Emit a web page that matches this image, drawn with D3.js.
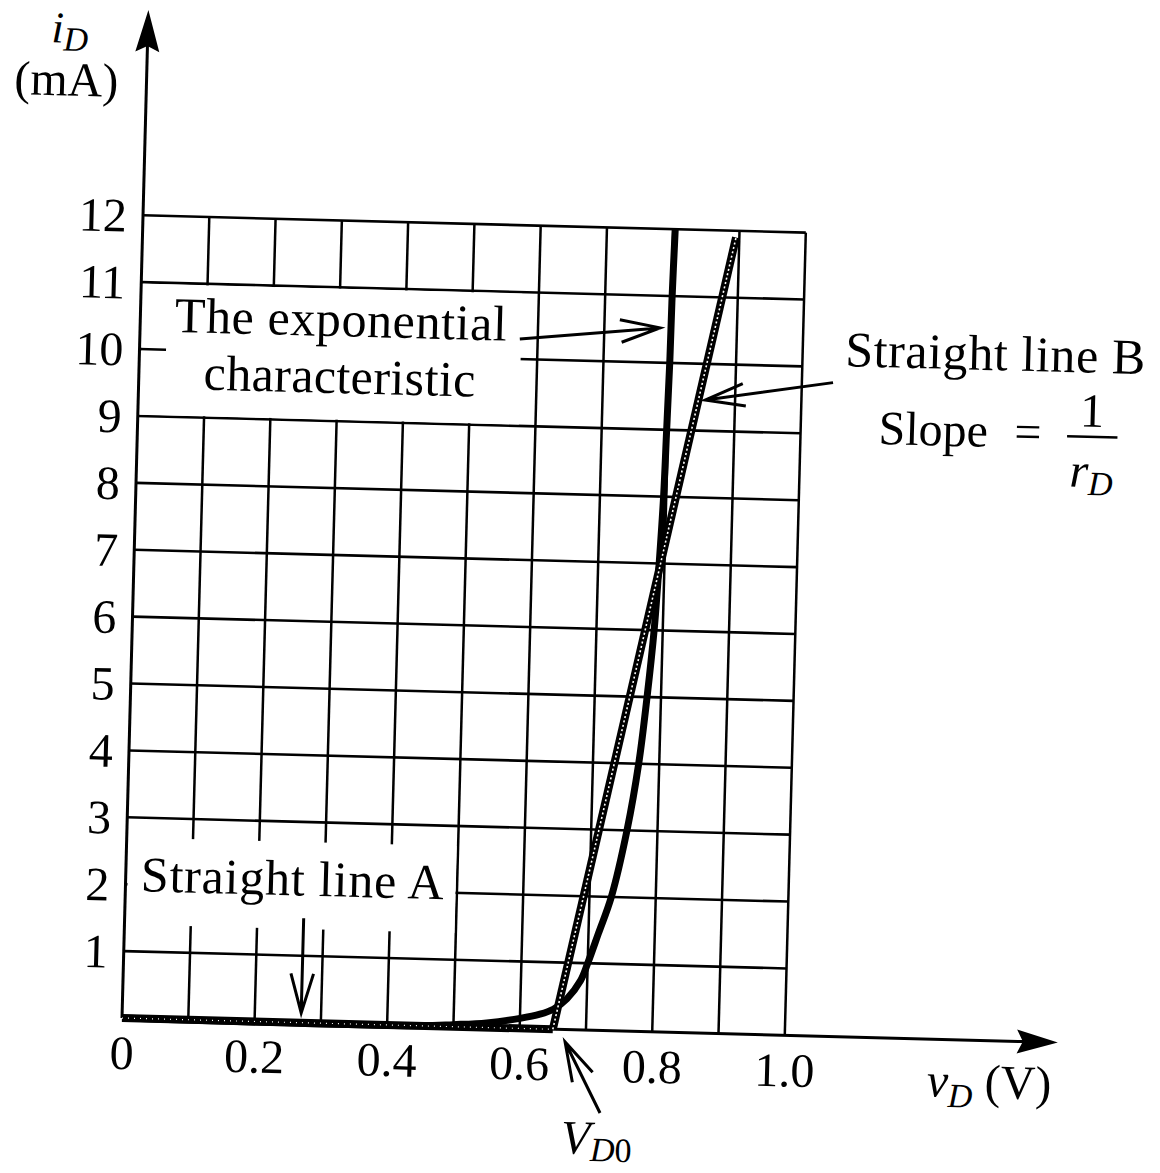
<!DOCTYPE html>
<html>
<head>
<meta charset="utf-8">
<script src="https://cdn.jsdelivr.net/npm/d3@7"></script>
<style>
    body { margin: 0; background: #fff; }
    svg { display: block; }
    text { font-family: "Liberation Serif", "Times New Roman", serif; fill: #000; }
</style>
</head>
<body>
<div id="vis"></div>
<script>
// diode i-v curve with the two straight-line pieces (A and B)

var xTicks = [0, 0.2, 0.4, 0.6, 0.8, 1.0];
var xTickLabels = ['0', '0.2', '0.4', '0.6', '0.8', '1.0'];
var yTicks = [1, 2, 3, 4, 5, 6, 7, 8, 9, 10, 11, 12];
var gridV = [0.1, 0.2, 0.3, 0.4, 0.5, 0.6, 0.7, 0.8, 0.9, 1.0];
var gridI = [1, 2, 3, 4, 5, 6, 7, 8, 9, 10, 11, 12];

// the exponential characteristic
var expV = [0, 0.45, 0.5, 0.55, 0.6, 0.63, 0.65, 0.67, 0.69, 0.70, 0.715, 0.733, 0.754, 0.769, 0.779, 0.787, 0.792, 0.796, 0.798, 0.800, 0.801, 0.803];
var expI = [0, 0, 0.03, 0.07, 0.15, 0.22, 0.3, 0.46, 0.74, 1.0, 1.45, 2, 3, 4, 5, 6, 7, 8, 9, 10, 11, 12];

// straight line A (off) and straight line B (slope 1/rD from VD0)
var lineAV = [0, 0.65];
var lineAI = [0, 0];
var lineBV = [0.65, 0.895];
var lineBI = [0, 11.9];

var width = 663;
var height = 803;
var origin = {x: 122, y: 1018};
var tilt = 1.5;

var svg = d3.select('#vis')
    .append('svg')
    .attr('width', 1160)
    .attr('height', 1173);

var g = svg.append('g')
    .attr('transform', 'translate(' + origin.x + ',' + origin.y + ') rotate(' + tilt + ') translate(0,' + (-height) + ')');

var xScale = d3.scaleLinear().domain([0, 1]).range([0, width]);
var yScale = d3.scaleLinear().domain([0, 12]).range([height, 0]);

var pts = function(vs, is) {
    return vs.map(function(v, k) { return [v, is[k]]; });
};

// grid
g.selectAll('.hgrid').data(gridI).enter().append('line')
    .attr('class', 'hgrid')
    .attr('x1', xScale(0)).attr('x2', xScale(1))
    .attr('y1', function(d) { return yScale(d); })
    .attr('y2', function(d) { return yScale(d); })
    .attr('stroke', '#000').attr('stroke-width', 2.6);

g.selectAll('.vgrid').data(gridV).enter().append('line')
    .attr('class', 'vgrid')
    .attr('x1', function(d) { return xScale(d); })
    .attr('x2', function(d) { return xScale(d); })
    .attr('y1', yScale(0)).attr('y2', yScale(12))
    .attr('stroke', '#000').attr('stroke-width', 2.5);

// white boxes behind the labels
g.append('rect')
    .attr('x', xScale(0) + 2).attr('y', yScale(11) + 1.5)
    .attr('width', xScale(0.575) - xScale(0) - 2)
    .attr('height', yScale(9) - yScale(11) - 3)
    .attr('fill', '#fff');
g.append('line')
    .attr('x1', xScale(0)).attr('x2', xScale(0.04))
    .attr('y1', yScale(10)).attr('y2', yScale(10))
    .attr('stroke', '#000').attr('stroke-width', 2.6);

g.append('rect')
    .attr('x', xScale(0) + 2).attr('y', yScale(2.7))
    .attr('width', xScale(0.5) - xScale(0) - 3.5)
    .attr('height', yScale(1.4) - yScale(2.7))
    .attr('fill', '#fff');

// axes with arrows
g.append('line')
    .attr('x1', 0).attr('x2', 0)
    .attr('y1', yScale(0)).attr('y2', yScale(14.6))
    .attr('stroke', '#000').attr('stroke-width', 3);
g.append('path')
    .attr('d', 'M0,' + yScale(15.07) + 'L-12,' + (yScale(15.07) + 42) + 'L0,' + (yScale(15.07) + 36) + 'L12,' + (yScale(15.07) + 42) + 'Z')
    .attr('fill', '#000');

g.append('line')
    .attr('x1', 0).attr('x2', xScale(1.36))
    .attr('y1', yScale(0)).attr('y2', yScale(0))
    .attr('stroke', '#000').attr('stroke-width', 3);
g.append('path')
    .attr('d', 'M' + xScale(1.412) + ',' + yScale(0) + 'L' + (xScale(1.412) - 41) + ',' + (yScale(0) - 12) + 'L' + (xScale(1.412) - 35) + ',' + yScale(0) + 'L' + (xScale(1.412) - 41) + ',' + (yScale(0) + 12) + 'Z')
    .attr('fill', '#000');

var yAxis = d3.axisLeft(yScale)
    .tickValues(yTicks)
    .tickSize(0)
    .tickPadding(16);

var xAxis = d3.axisBottom(xScale)
    .tickValues(xTicks)
    .tickFormat(function(d, k) { return xTickLabels[k]; })
    .tickSize(0)
    .tickPadding(17);

var yg = g.append('g').call(yAxis);
var xg = g.append('g').attr('transform', 'translate(0,' + height + ')').call(xAxis);
[yg, xg].forEach(function(a) {
    a.select('.domain').remove();
    a.attr('font-family', null).attr('font-size', null);
    a.selectAll('text').style('font-size', '48px');
});
yg.selectAll('text').attr('dy', '0.34em');

// curves
var line = d3.line()
    .x(function(d) { return xScale(d[0]); })
    .y(function(d) { return yScale(d[1]); });

g.append('path')
    .datum(pts(expV, expI))
    .attr('d', line.curve(d3.curveCatmullRom.alpha(0.5)))
    .attr('fill', 'none')
    .attr('stroke', '#000')
    .attr('stroke-width', 7)
    .attr('stroke-linejoin', 'round');

line.curve(d3.curveLinear);
[[pts(lineAV, lineAI), '1,5', 1.2], [pts(lineBV, lineBI), '2,2.5', 1.6]].forEach(function(s) {
    g.append('path').datum(s[0]).attr('d', line)
        .attr('fill', 'none').attr('stroke', '#000').attr('stroke-width', 8);
    g.append('path').datum(s[0]).attr('d', line)
        .attr('fill', 'none').attr('stroke', '#fff').attr('stroke-width', s[2])
        .attr('stroke-dasharray', s[1]);
});

// open arrows for the callouts
var arrow = function(v1, i1, v2, i2) {
    var x1 = xScale(v1), y1 = yScale(i1), x2 = xScale(v2), y2 = yScale(i2);
    var ang = Math.atan2(y1 - y2, x1 - x2);
    var len = 41, spread = 16 * Math.PI / 180;
    var b1 = [x2 + len * Math.cos(ang + spread), y2 + len * Math.sin(ang + spread)];
    var b2 = [x2 + len * Math.cos(ang - spread), y2 + len * Math.sin(ang - spread)];
    g.append('path')
        .attr('d', 'M' + x1 + ',' + y1 + 'L' + x2 + ',' + y2 + 'M' + b1 + 'L' + x2 + ',' + y2 + 'L' + b2)
        .attr('fill', 'none')
        .attr('stroke', '#000')
        .attr('stroke-width', 3)
        .attr('stroke-linejoin', 'miter');
};

arrow(0.573, 10.30, 0.784, 10.52);
arrow(1.047, 9.77, 0.855, 9.46);
arrow(0.27, 1.56, 0.27, 0.145);
arrow(0.7245, -1.232, 0.669, -0.185);

// labels
var label = function(v, i, size) {
    return g.append('text')
        .attr('x', xScale(v))
        .attr('y', yScale(i))
        .attr('text-anchor', 'middle')
        .style('font-size', (size || 48) + 'px');
};

label(0.303, 10.27, 50).style('letter-spacing', '0.6px').text('The exponential');
label(0.303, 9.42, 50).style('letter-spacing', '0.4px').text('characteristic');
label(0.252, 1.90, 50).style('letter-spacing', '0.8px').text('Straight line A');
label(1.291, 10.02, 50).style('letter-spacing', '0.6px').text('Straight line B');
label(1.200, 8.87).text('Slope');
label(1.343, 8.87).text('=');
label(1.439, 9.21).text('1');

g.append('line')
    .attr('x1', xScale(1.402)).attr('x2', xScale(1.478))
    .attr('y1', yScale(9.06)).attr('y2', yScale(9.06))
    .attr('stroke', '#000').attr('stroke-width', 2.5);

var rd = label(1.44, 8.31);
rd.append('tspan').style('font-style', 'italic').text('r');
rd.append('tspan').style('font-style', 'italic').style('font-size', '34px').attr('dy', 8).text('D');

var idl = label(-0.1175, 14.55, 44);
idl.append('tspan').style('font-style', 'italic').text('i');
idl.append('tspan').style('font-style', 'italic').style('font-size', '34px').attr('dy', 8).text('D');
label(-0.121, 13.76).text('(mA)');

var vdl = label(1.310, -0.856);
vdl.append('tspan').style('font-style', 'italic').text('v');
vdl.append('tspan').style('font-style', 'italic').style('font-size', '34px').attr('dy', 10).text('D');
vdl.append('tspan').attr('dy', -10).text(' (V)');

var vd0 = label(0.720, -1.85);
vd0.append('tspan').style('font-style', 'italic').text('V');
vd0.append('tspan').style('font-style', 'italic').style('font-size', '34px').attr('dy', 7).text('D');
vd0.append('tspan').style('font-size', '34px').text('0');
</script>
</body>
</html>
